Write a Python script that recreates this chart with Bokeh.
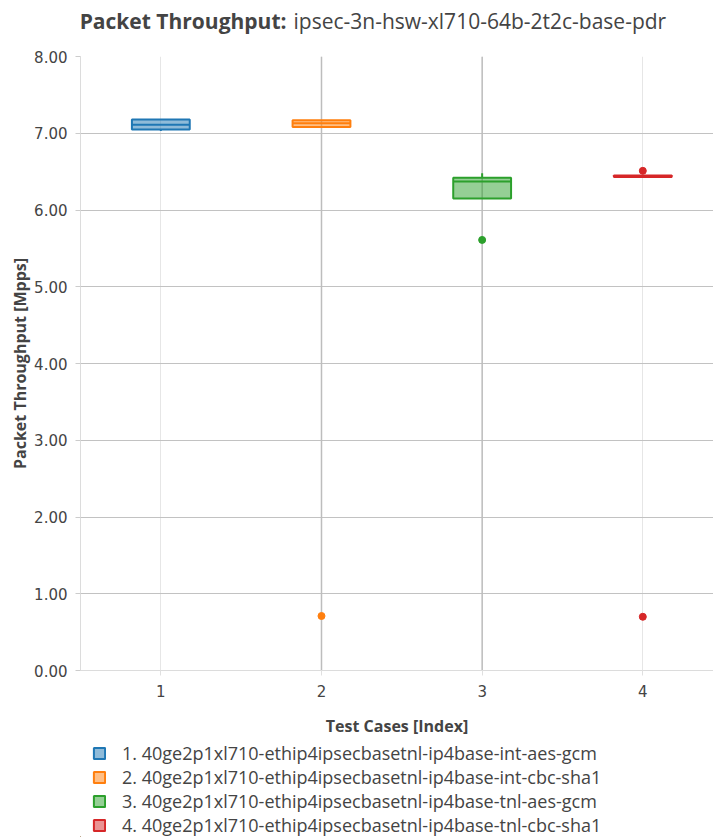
from bokeh.plotting import figure
from bokeh.layouts import column
from bokeh.models import (Range1d, FixedTicker, PrintfTickFormatter, Label, Legend,
                          LegendItem, ColumnDataSource, Span)
from bokeh.transform import dodge
from bokeh.embed import file_html
from bokeh.resources import INLINE

# ---- data ----
cases = [1, 2, 3, 4]
names = [
    "1. 40ge2p1xl710-ethip4ipsecbasetnl-ip4base-int-aes-gcm",
    "2. 40ge2p1xl710-ethip4ipsecbasetnl-ip4base-int-cbc-sha1",
    "3. 40ge2p1xl710-ethip4ipsecbasetnl-ip4base-tnl-aes-gcm",
    "4. 40ge2p1xl710-ethip4ipsecbasetnl-ip4base-tnl-cbc-sha1",
]
colors = ["#1f77b4", "#ff7f0e", "#2ca02c", "#d62728"]
q1 = [7.05, 7.08, 6.15, 6.43]
median = [7.11, 7.13, 6.37, 6.44]
q3 = [7.18, 7.17, 6.42, 6.45]
lower = [7.03, 7.08, 6.15, 6.43]
upper = [7.18, 7.17, 6.48, 6.45]
out_case = [2, 3, 4, 4]
out_val = [0.71, 5.61, 6.51, 0.70]
out_color = ["#ff7f0e", "#2ca02c", "#d62728", "#d62728"]
y_ticks = [0, 1, 2, 3, 4, 5, 6, 7, 8]
grid_y = [1, 2, 3, 4, 5, 6, 7]

BOX_W = 0.36
TXT = "#444444"

src = ColumnDataSource(dict(x=cases, q1=q1, med=median, q3=q3, lo=lower, hi=upper,
                            color=colors, name=names))
osrc = ColumnDataSource(dict(x=out_case, y=out_val, color=out_color))

p = figure(frame_width=633, frame_height=614, output_backend="svg", toolbar_location=None,
           x_range=Range1d(0.5, 4.44), y_range=Range1d(0, 8),
           min_border_left=80, min_border_right=0, min_border_top=54, min_border_bottom=0)
p.outline_line_color = None

# grids
p.xgrid.ticker = FixedTicker(ticks=cases)
p.ygrid.ticker = FixedTicker(ticks=grid_y)
p.xgrid.grid_line_color = "#e6e6e6"
p.ygrid.grid_line_color = "#c2c2c2"
for c in cases[1:3]:
    p.add_layout(Span(location=c, dimension="height", line_color="#bdbdbd", line_width=1.5,
                      level="underlay"))

# axes
p.yaxis.ticker = FixedTicker(ticks=y_ticks)
p.yaxis.formatter = PrintfTickFormatter(format="%.2f")
p.yaxis.axis_label = "Packet Throughput [Mpps]"
p.yaxis.major_tick_out = 5
p.yaxis.major_tick_in = 0
p.yaxis.minor_tick_line_color = None
p.yaxis.axis_line_color = "#dcdcdc"
p.yaxis.major_tick_line_color = "#cccccc"
p.yaxis.major_label_standoff = 8
p.yaxis.axis_label_standoff = 0

p.xaxis.ticker = FixedTicker(ticks=cases)
p.xaxis.axis_label = "Test Cases [Index]"
p.xaxis.major_tick_out = 5
p.xaxis.major_tick_in = 0
p.xaxis.minor_tick_line_color = None
p.xaxis.axis_line_color = "#dcdcdc"
p.xaxis.major_tick_line_color = "#e0e0e0"
p.xaxis.major_label_standoff = 9
p.xaxis.axis_label_standoff = 15

for ax in (p.xaxis, p.yaxis):
    ax.major_label_text_font = "DejaVu Sans"
    ax.major_label_text_font_size = "15px"
    ax.major_label_text_color = TXT
    ax.axis_label_text_font = "Open Sans"
    ax.axis_label_text_font_style = "bold"
    ax.axis_label_text_font_size = "16px"
    ax.axis_label_text_color = TXT

# whiskers
p.segment(x0="x", x1="x", y0="q3", y1="hi", source=src, line_color="color", line_width=2)
p.segment(x0="x", x1="x", y0="q1", y1="lo", source=src, line_color="color", line_width=2)
# boxes
boxes = p.vbar(x="x", width=BOX_W, bottom="q1", top="q3", source=src,
               fill_color="color", fill_alpha=0.5, line_color="color", line_width=2)
# medians
p.segment(x0=dodge("x", -BOX_W / 2, range=p.x_range), x1=dodge("x", BOX_W / 2, range=p.x_range),
          y0="med", y1="med", source=src, line_color="color", line_width=2)
# outliers
p.scatter(x="x", y="y", source=osrc, size=7, fill_color="color", line_color="color")

# title (bold + normal parts)
p.add_layout(Label(x=206, y=36, x_units="screen", y_units="screen",
                   text="Packet Throughput:", text_font="Open Sans", text_font_style="bold",
                   text_font_size="21px", text_line_height=1.0, text_color=TXT,
                   text_align="right", text_baseline="middle"), "above")
p.add_layout(Label(x=213, y=8, x_units="screen", y_units="screen",
                   text="ipsec-3n-hsw-xl710-64b-2t2c-base-pdr", text_font="Open Sans",
                   text_font_size="21px", text_line_height=1.0, text_color=TXT,
                   text_align="left", text_baseline="middle"), "above")

# legend in a separate strip below the plot
lg = figure(width=713, height=98, output_backend="svg", toolbar_location=None,
            x_range=Range1d(10, 11), y_range=Range1d(10, 11), min_border=0)
lg.axis.visible = False
lg.grid.visible = False
lg.outline_line_color = None
lg_boxes = lg.vbar(x="x", width=BOX_W, bottom="q1", top="q3", source=src,
                   fill_color="color", fill_alpha=0.5, line_color="color", line_width=2)
legend = Legend(items=[LegendItem(label=n, renderers=[lg_boxes], index=i) for i, n in enumerate(names)],
                location=(12, 0), orientation="vertical",
                label_text_font="Open Sans", label_text_font_size="18px",
                label_text_line_height=1.0,
                label_text_color=TXT, glyph_width=14, glyph_height=14,
                label_height=20, spacing=0, padding=0, margin=0,
                label_standoff=16, border_line_color=None, background_fill_alpha=0)
lg.add_layout(legend)

layout = column(p, lg, spacing=0)
open("out.html", "w").write(file_html(layout, INLINE))
